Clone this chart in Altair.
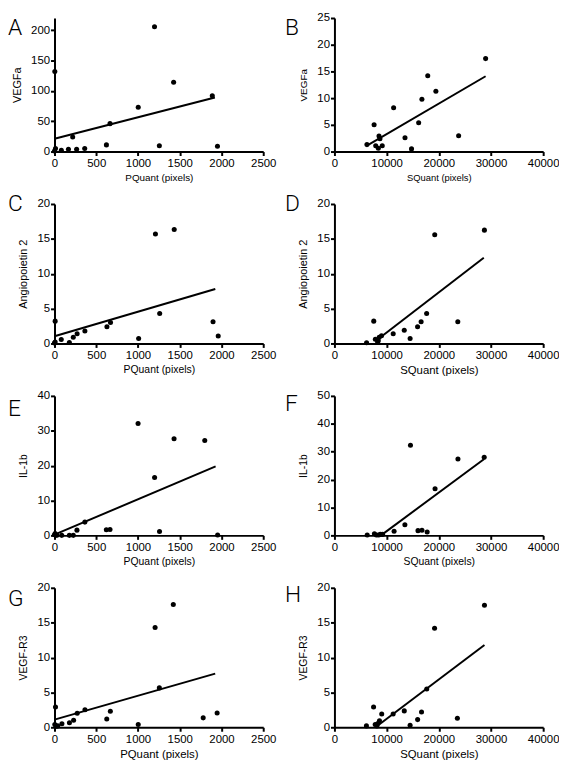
import altair as alt
import pandas as pd

FONT = "Liberation Sans"
LETTER_FONT = "Roboto"

# ---------- Panel A: VEGFa vs PQuant ----------
a_x = [4, 12, 0, 82, 167, 218, 265, 362, 622, 665, 1003, 1198, 1256, 1427, 1890, 1952]
a_y = [132, 5, 1, 2, 3.6, 24, 3.6, 5, 11, 46, 73, 205.6, 9.7, 114, 92, 8.7]
a_fit_x = [0, 1921]
a_fit_y = [21, 89]

# ---------- Panel B: VEGFa vs SQuant ----------
b_x = [6230, 7600, 7910, 8410, 8540, 8720, 9160, 11340, 13520, 14770, 16140, 16760, 17880, 19440, 23800, 28970]
b_y = [1.3, 5.0, 1.1, 0.6, 2.9, 2.4, 1.1, 8.2, 2.6, 0.5, 5.4, 9.8, 14.2, 11.3, 2.95, 17.4]
b_fit_x = [6230, 28970]
b_fit_y = [1.1, 14.1]

# ---------- Panel C: Angiopoietin 2 vs PQuant ----------
c_x = [8, 8, 0, 81, 178, 225, 271, 364, 628, 671, 1008, 1209, 1260, 1434, 1899, 1961]
c_y = [3.2, 0.2, 0.05, 0.56, 0.14, 0.9, 1.4, 1.8, 2.4, 3.0, 0.7, 15.7, 4.3, 16.35, 3.1, 1.08]
c_fit_x = [0, 1926]
c_fit_y = [1.03, 7.8]

# ---------- Panel D: Angiopoietin 2 vs SQuant ----------
d_x = [6160, 7530, 7840, 8270, 8580, 9020, 11260, 13380, 14500, 15930, 16610, 17670, 19220, 23640, 28740, 8400]
d_y = [0.1, 3.2, 0.6, 0.2, 0.9, 1.1, 1.4, 1.9, 0.7, 2.4, 3.1, 4.3, 15.6, 3.1, 16.25, 0.4]
d_fit_x = [8270, 28620]
d_fit_y = [0.56, 12.3]

# ---------- Panel E: IL-1b vs PQuant ----------
e_x = [8, 28, 87, 178, 225, 269, 364, 621, 665, 1001, 1199, 1258, 1432, 1800, 1954, 0]
e_y = [0.5, 0, 0, 0, 0, 1.5, 3.8, 1.6, 1.7, 32.1, 16.6, 1.1, 27.7, 27.2, 0.1, 0.2]
e_fit_x = [0, 1930]
e_fit_y = [0.2, 19.8]

# ---------- Panel F: IL-1b vs SQuant ----------
f_x = [6280, 7660, 8040, 8480, 8790, 9230, 11430, 13500, 14570, 16010, 16770, 17770, 19280, 23670, 28700]
f_y = [0.1, 0.6, 0.1, 0.1, 0.35, 0.35, 1.5, 3.8, 32.3, 1.7, 1.8, 1.2, 16.7, 27.4, 28.0]
f_fit_x = [8920, 28700]
f_fit_y = [0, 27.4]

# ---------- Panel G: VEGF-R3 vs PQuant ----------
g_x = [12, 4, 19, 39, 89, 179, 229, 272, 365, 626, 669, 1003, 1205, 1256, 1423, 1781, 1948]
g_y = [2.9, 0.4, 0.15, 0.2, 0.5, 0.65, 1.0, 2.0, 2.5, 1.2, 2.3, 0.4, 14.3, 5.65, 17.6, 1.35, 2.05]
g_fit_x = [0, 1925]
g_fit_y = [1.1, 7.7]

# ---------- Panel H: VEGF-R3 vs SQuant ----------
h_x = [6130, 7500, 7810, 8130, 8310, 8630, 9060, 11250, 13380, 14500, 15940, 16690, 17690, 19190, 23560, 28750]
h_y = [0.2, 2.9, 0.4, 0.2, 0.55, 0.95, 1.9, 1.9, 2.35, 0.3, 1.1, 2.2, 5.5, 14.2, 1.3, 17.5]
h_fit_x = [8440, 28750]
h_fit_y = [0.33, 11.8]

P_TICKS = [0, 500, 1000, 1500, 2000, 2500]
S_TICKS = [0, 10000, 20000, 30000, 40000]

W = 211
H = 141
H_TOP = 135


def panel(letter, letter_dy, letter_dx, xs, ys, fx, fy, xdom, xticks, ydom, yticks,
          xtitle, ytitle, xts, yts, h=H):
    pts = pd.DataFrame({"x": xs, "y": ys})
    fit = pd.DataFrame({"x": fx, "y": fy})
    xsc = alt.Scale(domain=xdom, nice=False, zero=False)
    ysc = alt.Scale(domain=ydom, nice=False, zero=False)
    xax = alt.Axis(values=xticks, tickCount=20, title=xtitle, format="d", titleFontSize=xts)
    yax = alt.Axis(values=yticks, tickCount=20, title=ytitle, format="d", titleFontSize=yts)
    dots = alt.Chart(pts).mark_circle(size=26, color="black", opacity=1).encode(
        x=alt.X("x:Q", scale=xsc, axis=xax),
        y=alt.Y("y:Q", scale=ysc, axis=yax),
    )
    line = alt.Chart(fit).mark_line(color="black", strokeWidth=2).encode(
        x=alt.X("x:Q", scale=xsc),
        y=alt.Y("y:Q", scale=ysc),
    )
    lab = alt.Chart(pd.DataFrame({"t": [letter]})).mark_text(
        align="left", baseline="alphabetic", fontSize=23, font=LETTER_FONT,
        fontWeight=300, color="black"
    ).encode(x=alt.value(letter_dx), y=alt.value(letter_dy), text="t:N")
    return alt.layer(line, dots, lab).properties(width=W, height=h)


A = panel("A", 17, -47, a_x, a_y, a_fit_x, a_fit_y, [0, 2500], P_TICKS, [0, 220],
          [0, 50, 100, 150, 200], "PQuant  (pixels)", "VEGFa", 10, 11, H_TOP)
B = panel("B", 17, -50, b_x, b_y, b_fit_x, b_fit_y, [0, 40000], S_TICKS, [0, 25],
          [0, 5, 10, 15, 20, 25], "SQuant (pixels)", "VEGFa", 9.5, 10, H_TOP)
C = panel("C", 7, -47, c_x, c_y, c_fit_x, c_fit_y, [0, 2500], P_TICKS, [0, 20],
          [0, 5, 10, 15, 20], "PQuant  (pixels)", "Angiopoietin 2", 10.5, 11)
D = panel("D", 7, -50, d_x, d_y, d_fit_x, d_fit_y, [0, 40000], S_TICKS, [0, 20],
          [0, 5, 10, 15, 20], "SQuant (pixels)", "Angiopoietin 2", 11.5, 11)
E = panel("E", 20, -47, e_x, e_y, e_fit_x, e_fit_y, [0, 2500], P_TICKS, [0, 40],
          [0, 10, 20, 30, 40], "PQuant (pixels)", "IL-1b", 10.5, 10.5)
F = panel("F", 15, -50, f_x, f_y, f_fit_x, f_fit_y, [0, 40000], S_TICKS, [0, 50],
          [0, 10, 20, 30, 40, 50], "SQuant (pixels)", "IL-1b", 10.5, 10.5)
G = panel("G", 18, -47, g_x, g_y, g_fit_x, g_fit_y, [0, 2500], P_TICKS, [0, 20],
          [0, 5, 10, 15, 20], "PQuant  (pixels)", "VEGF-R3", 11.5, 10.5)
Hh = panel("H", 14, -50, h_x, h_y, h_fit_x, h_fit_y, [0, 40000], S_TICKS, [0, 20],
           [0, 5, 10, 15, 20], "SQuant (pixels)", "VEGF-R3", 11.5, 10.5)

chart = alt.concat(
    A, B, C, D, E, F, G, Hh,
    columns=2,
    spacing={"row": 53, "column": 72},
    bounds="flush",
).properties(
    padding={"left": 0, "top": 0, "right": 0, "bottom": 0}
).configure_view(stroke=None).configure_axis(
    grid=False,
    domainColor="black",
    domainWidth=2,
    tickColor="black",
    tickWidth=2,
    tickSize=4,
    labelColor="black",
    labelFont=FONT,
    labelFontSize=11.5,
    labelPadding=1,
    labelOverlap=False,
    titleColor="black",
    titleFont=FONT,
    titleFontWeight="normal",
    titlePadding=8,
).configure_axisX(labelPadding=2, titlePadding=4, labelFlush=False).configure_axisY(labelFlush=False)

chart.save("out.html", embed_options={"renderer": "svg", "actions": False})
